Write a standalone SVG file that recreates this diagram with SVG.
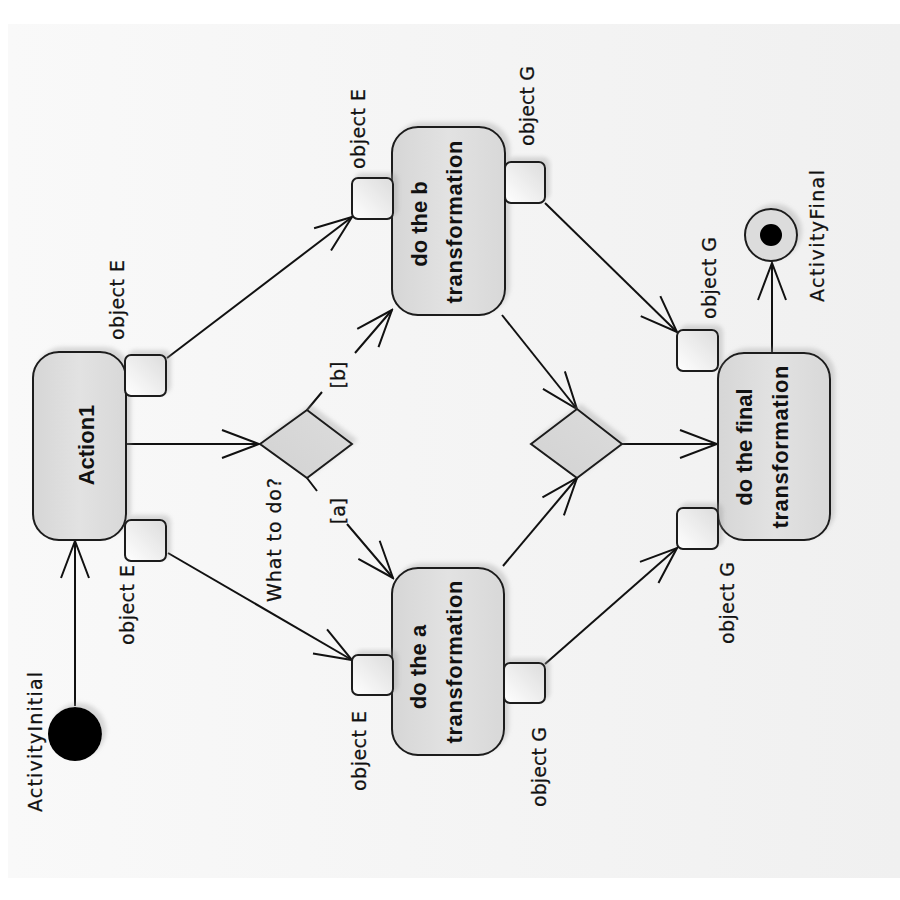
<svg xmlns="http://www.w3.org/2000/svg" width="900" height="900" viewBox="0 0 900 900">
<defs>
<linearGradient id="bg" x1="0" y1="0" x2="1" y2="0">
<stop offset="0" stop-color="#f9f9f9"/><stop offset="1" stop-color="#f0f0f0"/>
</linearGradient>
<linearGradient id="act" x1="0" y1="0" x2="1" y2="0">
<stop offset="0" stop-color="#d6d6d6"/><stop offset="0.5" stop-color="#e2e2e2"/><stop offset="1" stop-color="#d8d8d8"/>
</linearGradient>
<linearGradient id="pin" x1="0" y1="1" x2="1" y2="0">
<stop offset="0" stop-color="#ffffff"/><stop offset="1" stop-color="#dcdcdc"/>
</linearGradient>
<linearGradient id="dia" x1="0" y1="1" x2="1" y2="0">
<stop offset="0" stop-color="#d2d2d2"/><stop offset="1" stop-color="#dcdcdc"/>
</linearGradient>
<filter id="sh" x="-20%" y="-20%" width="140%" height="140%">
<feDropShadow dx="4" dy="-4" stdDeviation="2" flood-color="#999" flood-opacity="0.35"/>
</filter>
<marker id="arr" viewBox="-40 -16 42 32" refX="0" refY="0" markerWidth="42" markerHeight="32" markerUnits="userSpaceOnUse" orient="auto">
<path d="M-37,-14 L0,0 L-37,14" fill="none" stroke="#111" stroke-width="2"/>
</marker>
</defs>
<style>
.act{fill:url(#act);stroke:#1a1a1a;stroke-width:2;filter:url(#sh)}
.pin{fill:url(#pin);stroke:#1a1a1a;stroke-width:2;filter:url(#sh)}
.dia{fill:url(#dia);stroke:#1a1a1a;stroke-width:2;filter:url(#sh)}
.edge{fill:none;stroke:#111;stroke-width:2;marker-end:url(#arr)}
.lbl{font-family:"DejaVu Sans",sans-serif;font-size:19px;fill:#111;stroke:#111;stroke-width:0.25;text-anchor:middle}
.bold{font-family:"Liberation Sans",Arial,sans-serif;font-size:22px;font-weight:bold;fill:#111;text-anchor:middle}
</style>
<rect x="0" y="0" width="900" height="900" fill="#ffffff"/>
<rect x="8" y="24" width="892" height="854" fill="url(#bg)"/>

<g id="connectors">
<path class="edge" d="M75,706 L75,541"/>
<path class="edge" d="M127,444 L259,444"/>
<path class="edge" d="M167,358 L352,217"/>
<path class="edge" d="M168,553 L352,660"/>
<path class="edge" d="M307,410 L322,392 M355,353 L392,310"/>
<path class="edge" d="M307,478 L317,491 M347,524 L393,578"/>
<path class="edge" d="M502,315 L577,409"/>
<path class="edge" d="M503,566 L577,478"/>
<path class="edge" d="M622,444 L717,444"/>
<path class="edge" d="M545,203 L677,332"/>
<path class="edge" d="M545,664 L677,548"/>
<path class="edge" d="M772,353 L772,263"/>
</g>

<g id="initial">
<circle cx="75" cy="734" r="27" fill="#000" filter="url(#sh)"/>
<text class="lbl" transform="translate(42,742) rotate(-90)" textLength="140" lengthAdjust="spacing">ActivityInitial</text>
</g>

<g id="action1">
<rect class="act" x="33" y="352" width="93" height="188" rx="26"/>
<text class="bold" transform="translate(94,445) rotate(-90)">Action1</text>
<rect class="pin" x="125" y="355" width="41" height="41" rx="6"/>
<rect class="pin" x="125" y="520" width="41" height="41" rx="6"/>
<text class="lbl" transform="translate(124,300) rotate(-90)" textLength="80" lengthAdjust="spacing">object E</text>
<text class="lbl" transform="translate(134,605) rotate(-90)" textLength="80" lengthAdjust="spacing">object E</text>
</g>

<g id="decision">
<polygon class="dia" points="260,444 307,410 352,444 307,478"/>
<text class="lbl" transform="translate(281,540) rotate(-90)" textLength="124" lengthAdjust="spacing">What to do?</text>
<text class="lbl" transform="translate(345,375) rotate(-90)">[b]</text>
<text class="lbl" transform="translate(345,511) rotate(-90)">[a]</text>
</g>

<g id="do_b">
<rect class="act" x="392" y="127" width="113" height="188" rx="26"/>
<text class="bold" transform="translate(427,224) rotate(-90)">do the b</text>
<text class="bold" transform="translate(462,222) rotate(-90)" textLength="163" lengthAdjust="spacing">transformation</text>
<rect class="pin" x="352" y="178" width="41" height="41" rx="6"/>
<rect class="pin" x="505" y="162" width="40" height="41" rx="6"/>
<text class="lbl" transform="translate(365,129) rotate(-90)" textLength="80" lengthAdjust="spacing">object E</text>
<text class="lbl" transform="translate(534,106) rotate(-90)" textLength="80" lengthAdjust="spacing">object G</text>
</g>

<g id="do_a">
<rect class="act" x="392" y="568" width="112" height="187" rx="26"/>
<text class="bold" transform="translate(426,667) rotate(-90)">do the a</text>
<text class="bold" transform="translate(462,662) rotate(-90)" textLength="163" lengthAdjust="spacing">transformation</text>
<rect class="pin" x="352" y="655" width="41" height="40" rx="6"/>
<rect class="pin" x="504" y="663" width="41" height="40" rx="6"/>
<text class="lbl" transform="translate(366,751) rotate(-90)" textLength="80" lengthAdjust="spacing">object E</text>
<text class="lbl" transform="translate(546,767) rotate(-90)" textLength="80" lengthAdjust="spacing">object G</text>
</g>

<g id="merge">
<polygon class="dia" points="531,444 577,409 622,444 577,478"/>
</g>

<g id="final_action">
<rect class="act" x="718" y="353" width="112" height="187" rx="26"/>
<text class="bold" transform="translate(752,447) rotate(-90)">do the final</text>
<text class="bold" transform="translate(788,447) rotate(-90)" textLength="163" lengthAdjust="spacing">transformation</text>
<rect class="pin" x="677" y="330" width="41" height="41" rx="6"/>
<rect class="pin" x="677" y="508" width="41" height="41" rx="6"/>
<text class="lbl" transform="translate(716,278) rotate(-90)" textLength="82" lengthAdjust="spacing">object G</text>
<text class="lbl" transform="translate(734,603) rotate(-90)" textLength="82" lengthAdjust="spacing">object G</text>
</g>

<g id="activity_final">
<circle cx="771" cy="235" r="26" fill="#dcdcdc" stroke="#1a1a1a" stroke-width="2" filter="url(#sh)"/>
<circle cx="771" cy="235" r="11" fill="#000"/>
<text class="lbl" transform="translate(824,236) rotate(-90)" textLength="132" lengthAdjust="spacing">ActivityFinal</text>
</g>
</svg>
